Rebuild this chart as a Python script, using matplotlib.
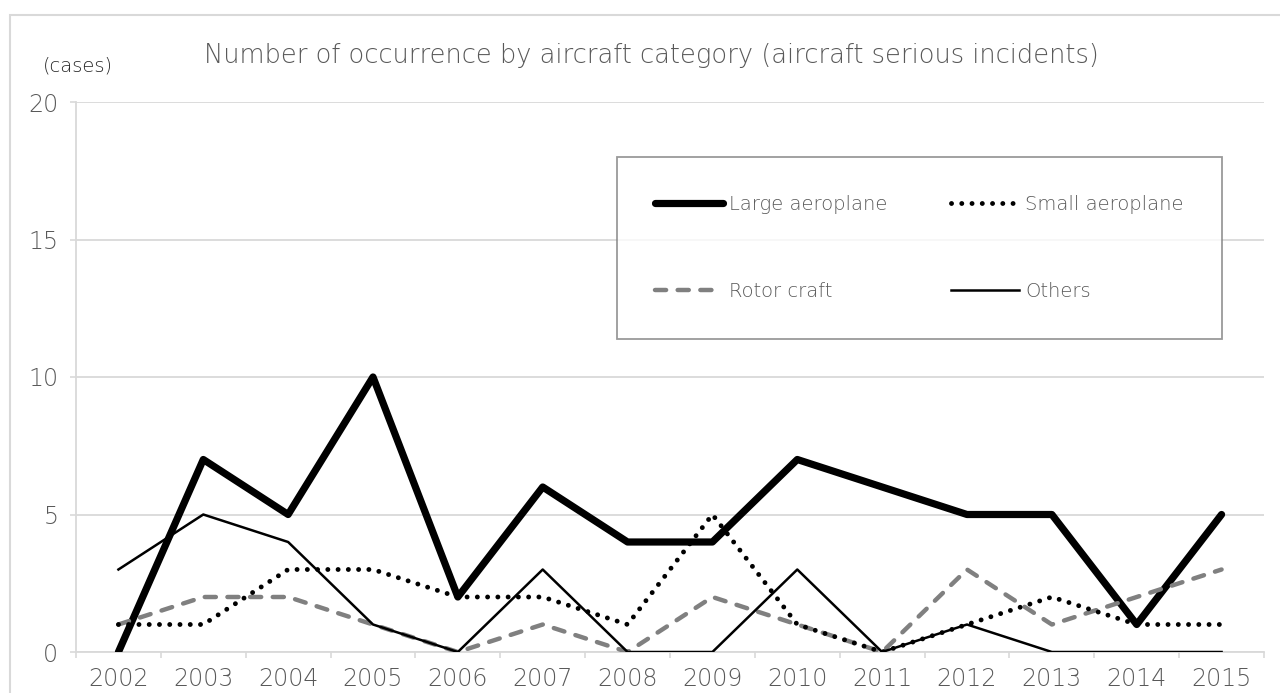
import numpy as np
import matplotlib

matplotlib.use("Agg")
import matplotlib.pyplot as plt
from matplotlib.patches import Rectangle

years = [str(y) for y in range(2002, 2016)]
large = [0, 7, 5, 10, 2, 6, 4, 4, 7, 6, 5, 5, 1, 5]
small = [1, 1, 3, 3, 2, 2, 1, 5, 1, 0, 1, 2, 1, 1]
rotor = [1, 2, 2, 1, 0, 1, 0, 2, 1, 0, 3, 1, 2, 3]
others = [3, 5, 4, 1, 0, 3, 0, 0, 3, 0, 1, 0, 0, 0]

plt.rcParams["font.family"] = ["DejaVu Sans", "Noto Sans CJK JP"]
plt.rcParams["font.weight"] = "light"
GRID = "#d9d9d9"
TEXT = "#595959"

fig = plt.figure(figsize=(12.8, 6.93), dpi=100)
ax = fig.add_axes([76 / 1280, 1 - 652 / 693, (1264 - 76) / 1280, (652 - 102) / 693])

# outer chart border
fig.patches.append(
    Rectangle((10 / 1280, -0.1), 1.2, 1.1 - 15 / 693, transform=fig.transFigure,
              fill=False, edgecolor=GRID, lw=1.5)
)

x = np.arange(len(years))

ax.plot(x, large, color="black", lw=5.2, solid_joinstyle="round",
        solid_capstyle="round", zorder=3, label="Large aeroplane")
ax.plot(x, rotor, color="#808080", lw=3.2, linestyle=(0, (2.5, 2.6)),
        dash_capstyle="round", zorder=4, label="Rotor craft")
ax.plot(x, small, color="black", lw=3.5, linestyle=(0, (0.01, 2.1)),
        dash_capstyle="round", zorder=5, label="Small aeroplane")
ax.plot(x, others, color="black", lw=1.8, zorder=6, label="Others")

ax.set_xlim(-0.5, len(years) - 0.5)
ax.set_ylim(0, 20)

ax.set_xticks(np.arange(-0.5, len(years), 1))
ax.set_xticklabels([])
ax.set_xticks(x, minor=True)
ax.set_xticklabels(years, minor=True)
ax.tick_params(axis="x", which="major", length=4.3, width=1.2, color=GRID)
ax.tick_params(axis="x", which="minor", length=0, pad=11, labelsize=17,
               labelcolor=TEXT)

ax.set_yticks([0, 5, 10, 15, 20])
ax.tick_params(axis="y", length=4.3, width=1.2, color=GRID, pad=8.5,
               labelsize=17, labelcolor=TEXT)
ax.grid(axis="y", color=GRID, lw=1.3)
ax.set_axisbelow(True)

for side in ["top", "right"]:
    ax.spines[side].set_visible(False)
for side in ["left", "bottom"]:
    ax.spines[side].set_color(GRID)
    ax.spines[side].set_linewidth(1.3)

fig.text(651 / 1280, 1 - 63 / 693,
         "Number of occurrence by aircraft category (aircraft serious incidents)",
         ha="center", va="baseline", fontsize=18.5, color=TEXT)
fig.text(78 / 1280, 1 - 72 / 693, "(cases)", ha="center", va="baseline",
         fontsize=14, color="#262626")

leg = ax.legend(ncol=2, loc="upper left",
                bbox_to_anchor=(617 / 1280, 1 - 157 / 693),
                bbox_transform=fig.transFigure, borderaxespad=0, fontsize=14,
                labelcolor=TEXT, frameon=True, fancybox=False,
                edgecolor="#808080", borderpad=1.95, labelspacing=3.5,
                handlelength=3.5, handletextpad=0.3, columnspacing=3.3)
leg.get_frame().set_linewidth(1.3)

plt.savefig("out.png", dpi=100)
